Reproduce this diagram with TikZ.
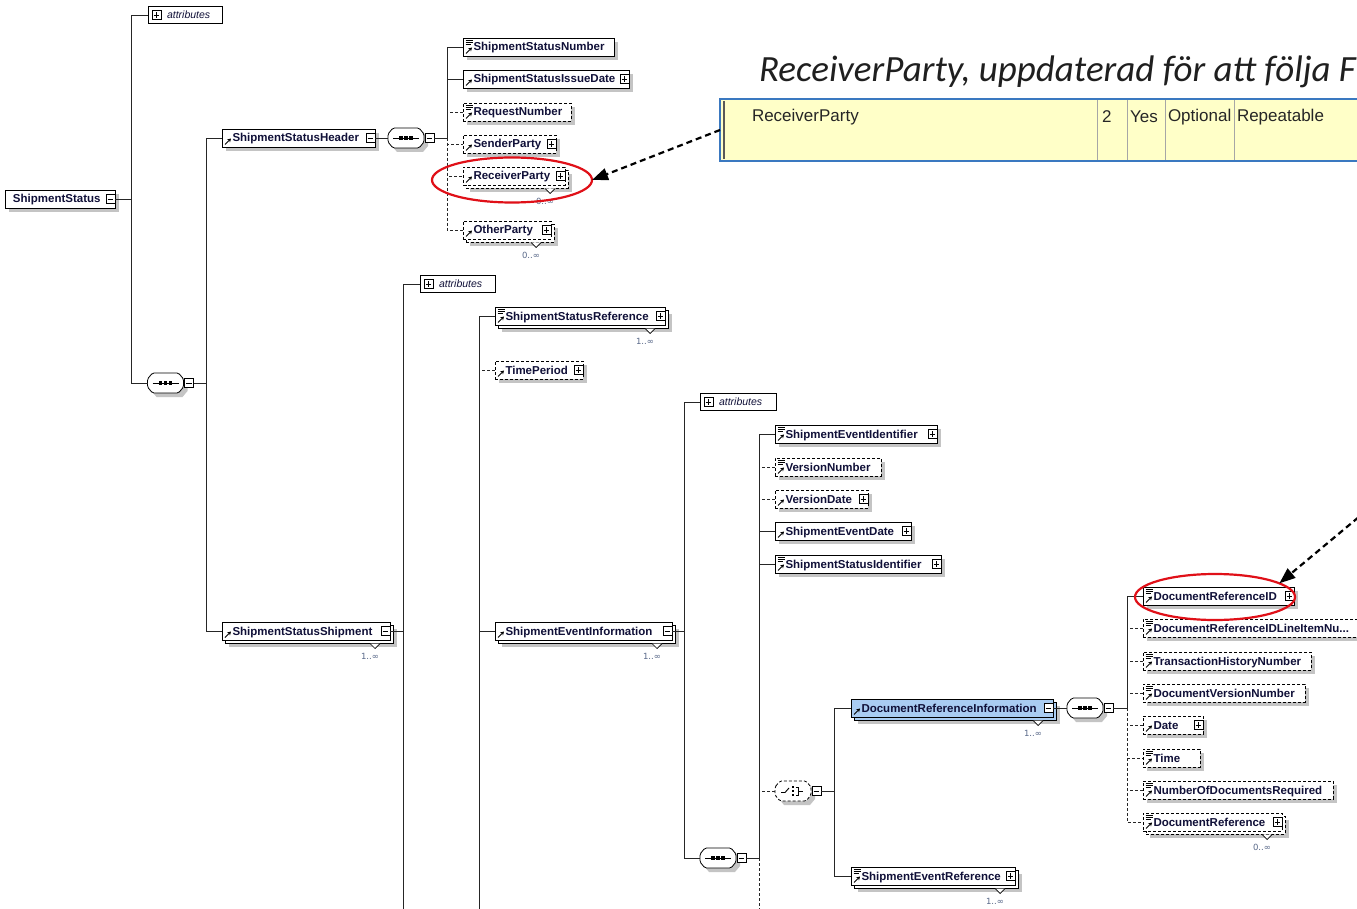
\documentclass[tikz,border=0pt]{standalone}
\usepackage{fontspec}
\setmainfont{Liberation Sans}
\newfontfamily\titlefont{Carlito}
\newfontfamily\cntfont{DejaVu Sans}
\usetikzlibrary{shapes.geometric,shadows,calc,arrows.meta}
\definecolor{labc}{HTML}{101038}
\definecolor{shg}{HTML}{C4C4C4}
\definecolor{drblue}{HTML}{A9CCF2}
\definecolor{cntc}{HTML}{5A6A8A}
\definecolor{tabyel}{HTML}{FFFFC8}
\definecolor{tabblue}{HTML}{3A78C0}
\definecolor{ellred}{HTML}{E01018}
\newcommand\ind{\hspace*{10.5pt}}
\newcommand\EL[6]{%
  \pgfmathsetmacro\elw{#3-#2}%
  \node[elbox,#5,text width=\elw pt,minimum width=\elw pt] (#1) at (#2,#4) {#6};}
\newcommand\RA[1]{\draw[icon,line width=1pt,-{Stealth[length=3.6pt,width=4.2pt]}] ($(#1.south west)+(3,-2.5)$) -- ++(6,-6);}
\newcommand\SI[1]{\draw[icon] ($(#1.north west)+(2.5,2.5)$) -- ++(7,0) ($(#1.north west)+(2.5,4.5)$) -- ++(7,0) ($(#1.north west)+(2.5,6.5)$) -- ++(5,0);}
\newcommand\PM[3]{\node[pmbox] (#1) at #2 {};\draw[icon] ($(#1.center)+(-2.8,0)$) -- ++(5.6,0);\ifnum#3=1\relax\draw[icon] ($(#1.center)+(0,-2.8)$) -- ++(0,5.6);\fi}
\newcommand\MU[3]{\draw[icon,fill=white] ($(#1.south east)+(-20,3.5)$) -- ++(5,5) -- ++(5,-5);
  \node[cnt] (#2) at ($(#1.south east)+(-20,16)$) {#3};}
\newcommand\AT[4]{%
  \pgfmathsetmacro\elw{#3-#2}%
  \node[atbox,text width=\elw pt,minimum width=\elw pt] (#1) at (#2,#4) {\hspace*{19pt}attributes};
  \PM{#1-pm}{($(#1.west)+(8.5,0)$)}{1}}
\newcommand\octpath{(-18,-4) -- (-13,-10) -- (13,-10) -- (18,-4) -- (18,4) -- (13,10) -- (-13,10) -- (-18,4) -- cycle}
% sequence compositor: name, x, y
\newcommand\SQ[3]{%
  \node[cmpn] (#1) at (#2,#3) {};
  \fill[shg,shift={($(#1.center)+(4,4)$)}] \octpath;
  \draw[line width=0.8pt,fill=white,rounded corners=1.5pt,shift={(#1.center)}] \octpath;
  \draw[line width=0.9pt,shift={(#1.center)}] (-13,0) -- (13,0);
  \foreach \d in {-5,0,5} \fill[shift={(#1.center)}] (\d-1.8,-1.8) rectangle (\d+1.8,1.8);
  \PM{#1-pm}{($(#1.east)+(5.5,0)$)}{0}}
% choice compositor: name, x, y
\newcommand\CH[3]{%
  \node[cmpn] (#1) at (#2,#3) {};
  \fill[shg,shift={($(#1.center)+(4,4)$)}] \octpath;
  \draw[line width=0.8pt,fill=white,rounded corners=1.5pt,dsh,shift={(#1.center)}] \octpath;
  \draw[line width=0.9pt,shift={(#1.center)}] (-12,1.5) -- (-8,1.5) -- (-4,-3);
  \foreach \d in {-4,0,4} \fill[shift={(#1.center)}] (-1.4,\d-1.4) rectangle (1.4,\d+1.4);
  \draw[line width=0.9pt,shift={(#1.center)}] (2.5,-4) -- (5,-4) -- (5,4) -- (2.5,4) (5,0) -- (10,0);
  \PM{#1-pm}{($(#1.east)+(5.5,0)$)}{0}}
\tikzset{
  base/.style={inner sep=0pt,outer sep=0pt},
  icon/.style={line width=0.7pt,draw=black},
  conn/.style={line width=0.9pt,draw=black!85},
  dsh/.style={dash pattern=on 3pt off 2pt},
  elbox/.style={base,draw=black,fill=white,line width=0.8pt,minimum height=18pt,align=left,anchor=west,
    text height=10pt,text depth=2pt,
    font=\bfseries\fontsize{11.5}{12}\selectfont,text=labc},
  sh/.style={drop shadow={shadow xshift=4pt,shadow yshift=-4pt,fill=shg,opacity=1}},
  shm/.style={drop shadow={shadow xshift=7pt,shadow yshift=-7pt,fill=shg,opacity=1},
    copy shadow={shadow xshift=3pt,shadow yshift=-3pt,draw=black,fill=white,line width=0.8pt,#1}},
  sol/.style={sh},
  das/.style={dsh,sh},
  msol/.style={shm={solid}},
  mdas/.style={dsh,shm={dsh}},
  pmbox/.style={base,draw=black,fill=white,minimum size=9pt,line width=0.7pt},
  atbox/.style={base,draw=black,fill=white,line width=0.8pt,minimum height=17pt,anchor=west,align=left,
    text height=9.5pt,text depth=2pt,
    font=\itshape\fontsize{10.5}{12}\selectfont,text=labc},
  cnt/.style={base,font=\cntfont\fontsize{8.5}{9}\selectfont,text=cntc},
  cmpn/.style={base,minimum width=36pt,minimum height=20pt},
  ell/.style={base,ellipse,draw=ellred,line width=2.2pt},
  arr/.style={draw=black,line width=2.2pt,dash pattern=on 6pt off 4pt,-{Triangle[length=16pt,width=12pt]}},
  tabtxt/.style={base,anchor=west,font=\fontsize{17}{20}\selectfont,text=black!85},
}
\begin{document}
\begin{tikzpicture}[x=1pt,y=-1pt]
\clip (0,0) rectangle (1357,909);
\fill[white] (0,0) rectangle (1357,909);

% ---- title and table
\node[base,anchor=base west,font=\titlefont\itshape\fontsize{37}{42}\selectfont,text=black!88] (ttl) at (759,82) {ReceiverParty, uppdaterad för att följa F};
\node[base,draw=tabblue,line width=1.3pt,fill=tabyel,minimum width=650pt,minimum height=62pt,anchor=north west] (tab) at (720,99) {};
\draw[draw=black!65,line width=1.6pt] (724,101) -- (724,159);
\foreach \x in {1097,1127,1165,1234} \draw[draw=black!35,line width=0.8pt] (\x,100) -- (\x,160);
\node[tabtxt] (c1) at (752,117) {ReceiverParty};
\node[tabtxt] (c2) at (1102,117) {2};
\node[tabtxt] (c3) at (1130,117) {Yes};
\node[tabtxt] (c4) at (1168,117) {Optional};
\node[tabtxt] (c5) at (1237,117) {Repeatable};

% ---- elements
\EL{ss}{5}{115}{199}{sol}{\hspace*{8pt}ShipmentStatus}
\PM{ss-pm}{($(ss.east)+(-4.5,0)$)}{0}
\AT{at1}{148}{222}{15}
\SQ{sq1}{165.5}{383}

\EL{hdr}{222}{375}{138}{sol}{\ind ShipmentStatusHeader}
\RA{hdr}\PM{hdr-pm}{($(hdr.east)+(-4.5,0)$)}{0}
\SQ{sq2}{406}{138}

\EL{ssn}{463}{614}{47}{sol}{\ind ShipmentStatusNumber}\RA{ssn}\SI{ssn}
\EL{ssd}{463}{629}{79}{sol}{\ind ShipmentStatusIssueDate}\RA{ssd}\PM{ssd-pm}{($(ssd.east)+(-4.5,0)$)}{1}
\EL{rqn}{463}{571}{112}{das}{\ind RequestNumber}\RA{rqn}\SI{rqn}
\EL{sdp}{463}{556}{144}{das}{\ind SenderParty}\RA{sdp}\PM{sdp-pm}{($(sdp.east)+(-4.5,0)$)}{1}
\EL{rcp}{463}{565}{176}{mdas}{\ind ReceiverParty}\RA{rcp}\PM{rcp-pm}{($(rcp.east)+(-4.5,0)$)}{1}\MU{rcp}{rcp-c}{0..∞}
\EL{otp}{463}{551}{230}{mdas}{\ind OtherParty}\RA{otp}\PM{otp-pm}{($(otp.east)+(-4.5,0)$)}{1}\MU{otp}{otp-c}{0..∞}

\EL{shp}{222}{390}{631}{msol}{\ind ShipmentStatusShipment}\RA{shp}\PM{shp-pm}{($(shp.east)+(-4.5,0)$)}{0}\MU{shp}{shp-c}{1..∞}
\AT{at2}{420}{495}{284}
\EL{ssr}{495}{665}{316}{msol}{\ind ShipmentStatusReference}\RA{ssr}\SI{ssr}\PM{ssr-pm}{($(ssr.east)+(-4.5,0)$)}{1}\MU{ssr}{ssr-c}{1..∞}
\EL{tmp}{495}{583}{370}{das}{\ind TimePeriod}\RA{tmp}\PM{tmp-pm}{($(tmp.east)+(-4.5,0)$)}{1}
\EL{sei}{495}{672}{631}{msol}{\ind ShipmentEventInformation}\RA{sei}\PM{sei-pm}{($(sei.east)+(-4.5,0)$)}{0}\MU{sei}{sei-c}{1..∞}

\AT{at3}{700}{776}{402}
\SQ{sq3}{718}{858}
\EL{sid}{775}{937}{434}{sol}{\ind ShipmentEventIdentifier}\RA{sid}\SI{sid}\PM{sid-pm}{($(sid.east)+(-4.5,0)$)}{1}
\EL{vnr}{775}{881}{467}{das}{\ind VersionNumber}\RA{vnr}\SI{vnr}
\EL{vdt}{775}{868}{499}{das}{\ind VersionDate}\RA{vdt}\PM{vdt-pm}{($(vdt.east)+(-4.5,0)$)}{1}
\EL{sed}{775}{911}{531}{sol}{\ind ShipmentEventDate}\RA{sed}\PM{sed-pm}{($(sed.east)+(-4.5,0)$)}{1}
\EL{ssi}{775}{941}{564}{sol}{\ind ShipmentStatusIdentifier}\RA{ssi}\SI{ssi}\PM{ssi-pm}{($(ssi.east)+(-4.5,0)$)}{1}
\CH{ch1}{793}{791}

\EL{dri}{851}{1053}{708}{fill=drblue,shm={solid,fill=drblue}}{\ind DocumentReferenceInformation}\RA{dri}\PM{dri-pm}{($(dri.east)+(-4.5,0)$)}{0}\MU{dri}{dri-c}{1..∞}
\EL{ser}{851}{1015}{876}{msol}{\ind ShipmentEventReference}\RA{ser}\SI{ser}\PM{ser-pm}{($(ser.east)+(-4.5,0)$)}{1}\MU{ser}{ser-c}{1..∞}
\SQ{sq4}{1085}{708}

\EL{drid}{1143}{1294}{596}{sol}{\ind DocumentReferenceID}\RA{drid}\SI{drid}\PM{drid-pm}{($(drid.east)+(-4.5,0)$)}{1}
\EL{drl}{1143}{1364}{628}{das}{\ind DocumentReferenceIDLineItemNu...}\RA{drl}\SI{drl}
\EL{thn}{1143}{1311}{661}{das}{\ind TransactionHistoryNumber}\RA{thn}\SI{thn}
\EL{dvn}{1143}{1305}{693}{das}{\ind DocumentVersionNumber}\RA{dvn}\SI{dvn}
\EL{dat}{1143}{1203}{725}{das}{\ind Date}\RA{dat}\PM{dat-pm}{($(dat.east)+(-4.5,0)$)}{1}
\EL{tim}{1143}{1200}{758}{das}{\ind Time}\RA{tim}\SI{tim}
\EL{ndr}{1143}{1333}{790}{das}{\ind NumberOfDocumentsRequired}\RA{ndr}\SI{ndr}
\EL{drf}{1143}{1282}{822}{mdas}{\ind DocumentReference}\RA{drf}\SI{drf}\PM{drf-pm}{($(drf.east)+(-4.5,0)$)}{1}\MU{drf}{drf-c}{0..∞}

% ---- trunks
\coordinate (t1) at (131,199);
\coordinate (t2) at (206,383);
\coordinate (t3) at (447,138);
\coordinate (t4) at (403,631);
\coordinate (b4) at (403,915);
\coordinate (b5) at (479,915);
\coordinate (t6) at (684,631);
\coordinate (t7) at (759,858);
\coordinate (b7) at (759,915);
\coordinate (t8) at (834,791);
\coordinate (t9) at (1127,708);

\draw[conn] (ss-pm.east) -- (t1);
\draw[conn] (t1) |- (at1.west);
\draw[conn] (t1) |- (sq1.west);
\draw[conn] (sq1-pm.east) -- (t2);
\draw[conn] (t2) |- (hdr.west);
\draw[conn] (t2) |- (shp.west);
\draw[conn] (hdr-pm.east) -- (sq2.west);
\draw[conn] (sq2-pm.east) -- (t3);
\draw[conn] (t3) |- (ssn.west);
\draw[conn] (t3) |- (ssd.west);
\draw[conn,dsh] (rqn.west) -- (rqn.west -| t3);
\draw[conn,dsh] (t3) |- (sdp.west);
\draw[conn,dsh] (t3) |- (rcp.west);
\draw[conn,dsh] (t3) |- (otp.west);

\draw[conn] (shp-pm.east) -- (t4);
\draw[conn] (t4) |- (at2.west);
\draw[conn] (t4) -- (b4);
\draw[conn] (b5) |- (ssr.west);
\draw[conn,dsh] (tmp.west) -- (tmp.west -| b5);
\draw[conn] (sei.west) -- (sei.west -| b5);

\draw[conn] (sei-pm.east) -- (t6);
\draw[conn] (t6) |- (at3.west);
\draw[conn] (t6) |- (sq3.west);
\draw[conn] (sq3-pm.east) -- (t7);
\draw[conn] (t7) |- (sid.west);
\draw[conn] (t7) |- (sed.west);
\draw[conn] (t7) |- (ssi.west);
\draw[conn,dsh] (vnr.west) -- (vnr.west -| t7);
\draw[conn,dsh] (vdt.west) -- (vdt.west -| t7);
\draw[conn,dsh] (ch1.west) -- (ch1.west -| t7);
\draw[conn,dsh] (t7) -- (b7);

\draw[conn] (ch1-pm.east) -- (t8);
\draw[conn] (t8) |- (dri.west);
\draw[conn] (t8) |- (ser.west);
\draw[conn] (dri-pm.east) -- (sq4.west);
\draw[conn] (sq4-pm.east) -- (t9);
\draw[conn] (t9) |- (drid.west);
\draw[conn,dsh] (drl.west) -- (drl.west -| t9);
\draw[conn,dsh] (thn.west) -- (thn.west -| t9);
\draw[conn,dsh] (dvn.west) -- (dvn.west -| t9);
\draw[conn,dsh] (t9) |- (dat.west);
\draw[conn,dsh] (t9) |- (tim.west);
\draw[conn,dsh] (t9) |- (ndr.west);
\draw[conn,dsh] (t9) |- (drf.west);

% ---- highlights
\node[ell,minimum width=160pt,minimum height=45pt] (e1) at (512,180) {};
\node[ell,minimum width=160pt,minimum height=46pt] (e2) at (1215,597) {};
\draw[arr] (tab.west) -- (e1.east);
\coordinate (a2s) at (1366,511);
\draw[arr] (a2s) -- (e2.12);
\end{tikzpicture}
\end{document}
